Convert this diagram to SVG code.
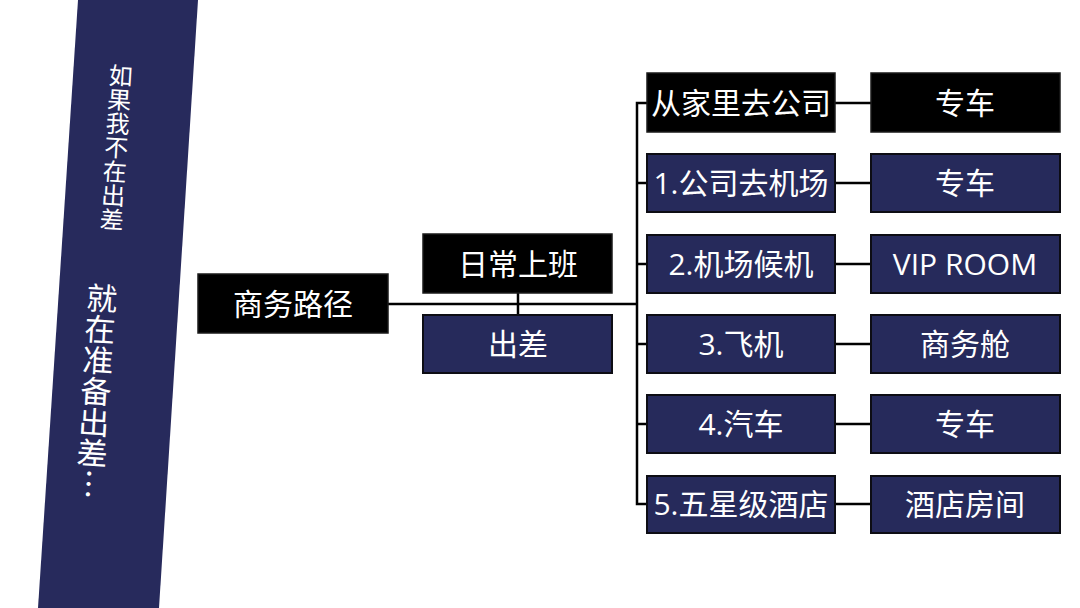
<svg xmlns="http://www.w3.org/2000/svg" width="1080" height="608" viewBox="0 0 1080 608">
<style>
  .blk { fill: #000000; stroke: #1a1a1a; stroke-width: 1.5; }
  .nav { fill: #262a5b; stroke: #0d0d14; stroke-width: 2; }
  .lbl { fill: #ffffff; font-family: "Open Sans", "Noto Sans CJK SC", sans-serif; font-size: 30px; text-anchor: middle; }
  .con { stroke: #000000; stroke-width: 2.5; fill: none; }
  .ban { fill: #ffffff; font-family: "Noto Sans CJK SC", sans-serif; writing-mode: vertical-rl; }
</style>
<rect x="0" y="0" width="1080" height="608" fill="#ffffff"/>
<g id="banner">
  <polygon points="78,0 198,0 159,608 38,608" fill="#272a5c"/>
  <g transform="rotate(3.6 105 280)">
    <text class="ban" x="108" y="63" font-size="24">如果我不在出差</text>
    <text class="ban" x="103" y="283" font-size="31">就在准备出差…</text>
  </g>
</g>
<g id="connectors">
  <line class="con" x1="388" y1="304" x2="637" y2="304"/>
  <line class="con" x1="518" y1="293" x2="518" y2="315"/>
  <path class="con" d="M647,103 H637 V504 H647"/>
  <line class="con" x1="637" y1="183" x2="647" y2="183"/>
  <line class="con" x1="637" y1="264" x2="647" y2="264"/>
  <line class="con" x1="637" y1="344" x2="647" y2="344"/>
  <line class="con" x1="637" y1="424" x2="647" y2="424"/>
  <line class="con" x1="835" y1="103" x2="871" y2="103"/>
  <line class="con" x1="835" y1="183" x2="871" y2="183"/>
  <line class="con" x1="835" y1="264" x2="871" y2="264"/>
  <line class="con" x1="835" y1="344" x2="871" y2="344"/>
  <line class="con" x1="835" y1="424" x2="871" y2="424"/>
  <line class="con" x1="835" y1="504" x2="871" y2="504"/>
</g>
<g id="n-root"><rect class="blk" x="198" y="274" width="190" height="59"/><text class="lbl" x="293" y="314.5">商务路径</text></g>
<g id="n-daily"><rect class="blk" x="423" y="234" width="189" height="59"/><text class="lbl" x="518" y="274.5">日常上班</text></g>
<g id="n-trip"><rect class="nav" x="423" y="315" width="189" height="58"/><text class="lbl" x="518" y="355">出差</text></g>

<g id="n-home"><rect class="blk" x="647" y="73" width="188" height="59"/><text class="lbl" x="741" y="113.5">从家里去公司</text></g>
<g id="n-home-car"><rect class="blk" x="871" y="73" width="189" height="59"/><text class="lbl" x="965" y="113.5">专车</text></g>

<g id="n-s1"><rect class="nav" x="647" y="154" width="188" height="58"/><text class="lbl" x="741" y="194">1.公司去机场</text></g>
<g id="n-s1-r"><rect class="nav" x="871" y="154" width="189" height="58"/><text class="lbl" x="965" y="194">专车</text></g>

<g id="n-s2"><rect class="nav" x="647" y="235" width="188" height="58"/><text class="lbl" x="741" y="275">2.机场候机</text></g>
<g id="n-s2-r"><rect class="nav" x="871" y="235" width="189" height="58"/><text class="lbl" x="965" y="275">VIP ROOM</text></g>

<g id="n-s3"><rect class="nav" x="647" y="315" width="188" height="58"/><text class="lbl" x="741" y="355">3.飞机</text></g>
<g id="n-s3-r"><rect class="nav" x="871" y="315" width="189" height="58"/><text class="lbl" x="965" y="355">商务舱</text></g>

<g id="n-s4"><rect class="nav" x="647" y="395" width="188" height="58"/><text class="lbl" x="741" y="435">4.汽车</text></g>
<g id="n-s4-r"><rect class="nav" x="871" y="395" width="189" height="58"/><text class="lbl" x="965" y="435">专车</text></g>

<g id="n-s5"><rect class="nav" x="647" y="476" width="188" height="57"/><text class="lbl" x="741" y="515">5.五星级酒店</text></g>
<g id="n-s5-r"><rect class="nav" x="871" y="476" width="189" height="57"/><text class="lbl" x="965" y="515">酒店房间</text></g>
</svg>
